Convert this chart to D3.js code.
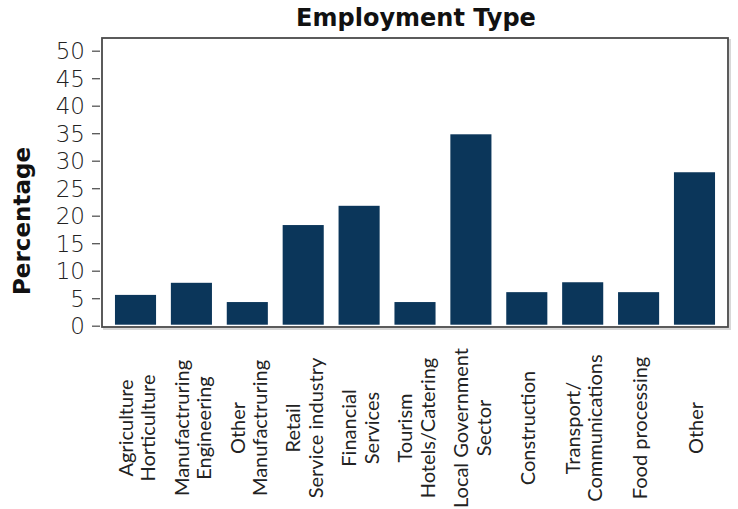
<!DOCTYPE html>
<html>
<head>
<meta charset="utf-8">
<script src="https://cdn.jsdelivr.net/npm/d3@7"></script>
<style>
  body { margin: 0; background: #fff; }
</style>
</head>
<body>
<div id="chart-area"></div>
<script>
// data
const categories = [
    ["Agriculture", "Horticulture"],
    ["Manufactruring", "Engineering"],
    ["Other", "Manufactruring"],
    ["Retail", "Service industry"],
    ["Financial", "Services"],
    ["Tourism", "Hotels/Catering"],
    ["Local Government", "Sector"],
    ["Construction"],
    ["Transport/", "Communications"],
    ["Food processing"],
    ["Other"]
];
const values = [5.6, 7.8, 4.3, 18.3, 21.8, 4.3, 34.8, 6.1, 7.9, 6.1, 27.9];
const yTicks = [0, 5, 10, 15, 20, 25, 30, 35, 40, 45, 50];

const W = 738, H = 509;
const MARGIN = {left: 102, right: 10, top: 38, bottom: 182};

const svg = d3.select("#chart-area").append("svg")
    .attr("width", W)
    .attr("height", H);

const x = d3.scaleBand()
    .domain(d3.range(values.length))
    .range([MARGIN.left, W - MARGIN.right])
    .paddingInner(0.265)
    .paddingOuter(0.232);

const y = d3.scaleLinear()
    .domain([0, 50])
    .range([325.7, 50.7]);

// light shadow of the frame
svg.append("rect")
    .attr("x", MARGIN.left + 2)
    .attr("y", MARGIN.top + 2)
    .attr("width", W - MARGIN.right - MARGIN.left)
    .attr("height", H - MARGIN.bottom - MARGIN.top)
    .attr("fill", "none")
    .attr("stroke", "#d8d8d8")
    .attr("stroke-width", 2);

// frame
svg.append("rect")
    .attr("x", MARGIN.left)
    .attr("y", MARGIN.top)
    .attr("width", W - MARGIN.right - MARGIN.left)
    .attr("height", H - MARGIN.bottom - MARGIN.top)
    .attr("fill", "#fff")
    .attr("stroke", "#4a4a4a")
    .attr("stroke-width", 1.8);

// bars
svg.selectAll(".bar")
    .data(values)
    .enter()
    .append("rect")
    .attr("class", "bar")
    .attr("x", (d, i) => x(i))
    .attr("y", d => y(d))
    .attr("width", x.bandwidth())
    .attr("height", d => y(0) - y(d) - 1)
    .attr("fill", "#0b365a");

// y axis
const yAxis = svg.append("g")
    .attr("transform", `translate(${MARGIN.left - 2},0)`)
    .call(d3.axisLeft(y).tickValues(yTicks).tickSize(8).tickPadding(7));
yAxis.select(".domain").remove();
yAxis.selectAll(".tick line").attr("stroke", "#555").attr("stroke-width", 1.3);
yAxis.selectAll(".tick text")
    .style("font-size", "23px")
    .style("font-family", "'DejaVu Sans', sans-serif")
    .style("font-weight", 300)
    .attr("fill", "#222")
    .attr("dy", "0.36em");

// x labels, rotated, lines centred on bar
const labels = svg.selectAll(".xlab")
    .data(categories)
    .enter()
    .append("text")
    .attr("class", "xlab")
    .attr("text-anchor", "middle")
    .style("font-family", "Lato, sans-serif")
    .style("font-size", "20px")
    .attr("fill", "#222")
    .attr("transform", (d, i) => `translate(${x(i) + x.bandwidth() / 2 + 1.5},428) rotate(-90)`);

labels.selectAll("tspan")
    .data(d => d.map((t, k) => ({t: t, k: k, n: d.length})))
    .enter()
    .append("tspan")
    .attr("x", 0)
    .attr("y", d => (d.k - (d.n - 1) / 2) * 22.5 + 7)
    .text(d => d.t);

// title
svg.append("text")
    .attr("x", 416)
    .attr("y", 26)
    .attr("text-anchor", "middle")
    .style("font-family", "'DejaVu Sans', sans-serif")
    .style("font-size", "24px")
    .style("font-weight", "bold")
    .attr("fill", "#111")
    .text("Employment Type");

// y title
svg.append("text")
    .attr("transform", "translate(30,221) rotate(-90)")
    .attr("text-anchor", "middle")
    .style("font-family", "'DejaVu Sans', sans-serif")
    .style("font-size", "23px")
    .style("font-weight", "bold")
    .attr("fill", "#111")
    .text("Percentage");
</script>
</body>
</html>
